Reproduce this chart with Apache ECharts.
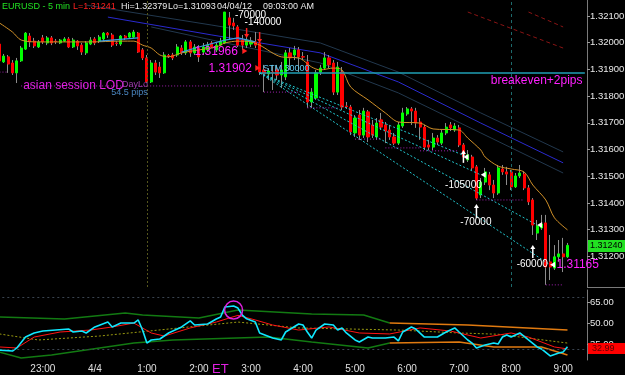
<!DOCTYPE html>
<html>
<head>
<meta charset="utf-8">
<script src="https://cdn.jsdelivr.net/npm/echarts@6.0.0/dist/echarts.min.js"></script>
<style>
html,body{margin:0;padding:0;background:#000;}
#chart{width:625px;height:375px;}
</style>
</head>
<body>
<div id="chart"></div>
<script>
// ---------- categories (5-minute bars from 22:10) ----------
const startMinutes = 22 * 60 + 10;
const barCount = 136;
const categories = [];
for (let i = 0; i < barCount; i++) {
  const m = (startMinutes + 5 * i) % 1440;
  categories.push(Math.floor(m / 60) + ':' + String(m % 60).padStart(2, '0'));
}
const hourLabels = {'23:00':'23:00','0:00':'4/4','1:00':'1:00','2:00':'2:00','3:00':'3:00','4:00':'4:00',
  '5:00':'5:00','6:00':'6:00','7:00':'7:00','8:00':'8:00','9:00':'9:00'};
const priceTicks = [1.312,1.313,1.314,1.315,1.316,1.317,1.318,1.319,1.320,1.321];
const oscTicks = [35,50,65];

// ---------- OHLC ----------
const opens = [1.31995,1.31928,1.31947,1.31924,1.31887,1.31932,1.31976,1.32025,1.32006,1.31984,
1.32018,1.31999,1.32018,1.32006,1.31999,1.32006,1.32014,1.31984,1.32006,1.31991,
1.31962,1.31995,1.32014,1.32006,1.32014,1.32036,1.32029,1.31999,1.31995,1.32025,
1.32021,1.32021,1.32036,1.31973,1.31943,1.31853,1.31924,1.31909,1.31887,1.31952,
1.31954,1.31954,1.31980,1.31962,1.32003,1.31962,1.31980,1.31965,1.31973,1.31999,
1.31973,1.31991,1.31999,1.32093,1.32074,1.32059,1.32010,1.31991,1.31995,1.32003,
1.31999,1.31898,1.31883,1.31890,1.31898,1.31879,1.31872,1.31962,1.31954,1.31973,
1.31948,1.31928,1.31778,1.31793,1.31890,1.31905,1.31943,1.31924,1.31815,1.31890,
1.31763,1.31759,1.31662,1.31729,1.31654,1.31741,1.31692,1.31647,1.31711,1.31692,
1.31673,1.31647,1.31624,1.31688,1.31733,1.31752,1.31744,1.31703,1.31684,1.31617,
1.31609,1.31643,1.31624,1.31662,1.31692,1.31673,1.31681,1.31617,1.31561,1.31572,
1.31535,1.31430,1.31478,1.31505,1.31467,1.31437,1.31527,1.31516,1.31516,1.31460,
1.31501,1.31508,1.31456,1.31411,1.31287,1.31306,1.31325,1.31179,1.31156,1.31198,
1.31209,1.31198];
const closes = [1.31932,1.31950,1.31920,1.31887,1.31932,1.31980,1.32036,1.32003,1.31988,1.32003,
1.32003,1.32018,1.31999,1.32004,1.32010,1.32014,1.31984,1.32010,1.31988,1.31965,
1.31999,1.32010,1.31999,1.32021,1.32036,1.32029,1.31991,1.31997,1.32025,1.32018,
1.32036,1.32040,1.31965,1.31943,1.31853,1.31924,1.31890,1.31887,1.31954,1.31950,
1.31943,1.31984,1.31962,1.32003,1.31962,1.31984,1.31947,1.31984,1.31991,1.31984,
1.31991,1.32006,1.32115,1.32066,1.32063,1.31991,1.31991,1.32010,1.32006,1.31991,
1.31890,1.31883,1.31894,1.31887,1.31879,1.31898,1.31962,1.31943,1.31973,1.31947,
1.31946,1.31778,1.31815,1.31887,1.31905,1.31943,1.31917,1.31815,1.31909,1.31759,
1.31761,1.31666,1.31718,1.31654,1.31744,1.31647,1.31654,1.31699,1.31684,1.31669,
1.31647,1.31624,1.31692,1.31737,1.31752,1.31744,1.31699,1.31684,1.31609,1.31609,
1.31643,1.31628,1.31662,1.31684,1.31681,1.31688,1.31617,1.31572,1.31580,1.31531,
1.31418,1.31478,1.31516,1.31467,1.31437,1.31531,1.31516,1.31508,1.31460,1.31501,
1.31512,1.31456,1.31404,1.31317,1.31314,1.31321,1.31160,1.31160,1.31198,1.31209,
1.31198,1.31241];
const lows = [1.31920,1.31924,1.31887,1.31879,1.31849,1.31928,1.31973,1.31984,1.31980,1.31980,
1.31995,1.31991,1.31991,1.31995,1.31995,1.32003,1.31980,1.31980,1.31973,1.31954,
1.31954,1.31991,1.31991,1.31999,1.32006,1.32018,1.31984,1.31988,1.31988,1.32010,
1.32014,1.32018,1.31962,1.31935,1.31849,1.31849,1.31879,1.31868,1.31883,1.31943,
1.31935,1.31947,1.31954,1.31954,1.31947,1.31954,1.31928,1.31954,1.31965,1.31980,
1.31965,1.31988,1.31995,1.32010,1.32048,1.31984,1.31973,1.31980,1.31984,1.31980,
1.31879,1.31815,1.31860,1.31823,1.31860,1.31830,1.31860,1.31898,1.31935,1.31890,
1.31935,1.31756,1.31756,1.31786,1.31879,1.31898,1.31905,1.31804,1.31804,1.31748,
1.31752,1.31654,1.31647,1.31636,1.31643,1.31628,1.31643,1.31636,1.31673,1.31624,
1.31636,1.31617,1.31617,1.31681,1.31726,1.31692,1.31681,1.31636,1.31598,1.31598,
1.31598,1.31617,1.31617,1.31654,1.31669,1.31666,1.31609,1.31561,1.31553,1.31523,
1.31411,1.31418,1.31467,1.31448,1.31418,1.31430,1.31505,1.31467,1.31448,1.31456,
1.31493,1.31448,1.31392,1.31280,1.31261,1.31299,1.31093,1.31111,1.31149,1.31179,
1.31141,1.31194];
const highs = [1.32010,1.31958,1.31954,1.31935,1.31943,1.31988,1.32040,1.32036,1.32018,1.32010,
1.32029,1.32025,1.32025,1.32014,1.32014,1.32021,1.32021,1.32018,1.32010,1.31999,
1.32006,1.32021,1.32021,1.32029,1.32040,1.32040,1.32036,1.32006,1.32029,1.32029,
1.32040,1.32048,1.32040,1.31980,1.31954,1.31935,1.31935,1.31928,1.31965,1.31958,
1.31962,1.31995,1.31991,1.32010,1.32010,1.31995,1.31991,1.31999,1.32003,1.32006,
1.31999,1.32018,1.32115,1.32115,1.32093,1.32066,1.32029,1.32029,1.32021,1.32040,
1.32010,1.31917,1.31905,1.31917,1.31917,1.31928,1.31973,1.31980,1.31988,1.31984,
1.31965,1.31954,1.31830,1.31898,1.31917,1.31965,1.31954,1.31935,1.31928,1.31909,
1.31778,1.31767,1.31729,1.31748,1.31756,1.31748,1.31711,1.31718,1.31737,1.31703,
1.31692,1.31662,1.31703,1.31756,1.31759,1.31759,1.31756,1.31718,1.31692,1.31636,
1.31662,1.31654,1.31673,1.31699,1.31703,1.31699,1.31692,1.31624,1.31598,1.31580,
1.31542,1.31493,1.31531,1.31516,1.31486,1.31542,1.31542,1.31535,1.31523,1.31512,
1.31542,1.31516,1.31467,1.31418,1.31336,1.31355,1.31355,1.31280,1.31242,1.31261,
1.31269,1.31250];

// ---------- price overlays ----------
const emaLine = [['22:10',1.32074],['22:25',1.32040],['22:35',1.32010],['22:55',1.32003],['23:20',1.32003],
['23:55',1.32003],['0:30',1.32006],['0:45',1.32006],['0:55',1.31991],['1:05',1.31980],['1:15',1.31954],
['1:25',1.31947],['1:40',1.31962],['2:00',1.31973],['2:20',1.31984],['2:30',1.31999],['2:45',1.32006],
['3:00',1.32003],['3:10',1.31991],['3:35',1.31947],['3:55',1.31943],['4:10',1.31909],['4:20',1.31898],
['4:35',1.31905],['4:45',1.31898],['4:55',1.31834],['5:15',1.31786],['5:35',1.31737],['5:50',1.31703],
['6:15',1.31699],['6:30',1.31677],['7:00',1.31673],['7:10',1.31643],['7:25',1.31598],['7:30',1.31572],
['7:45',1.31538],['8:00',1.31527],['8:15',1.31516],['8:25',1.31467],['8:40',1.31411],['8:50',1.31344],['9:05',1.31299]];
const stopLineA = [['0:05',1.32006],['0:50',1.32018]];
const stopLineB = [['1:40',1.31965],['2:00',1.31984],['2:30',1.32010],['2:45',1.32018],['3:05',1.32003]];
const bandUpper = [['23:50',1.32141],['2:15',1.32066],['4:20',1.31999],['5:50',1.31890],['7:25',1.31737],['9:00',1.31591]];
const bandMid   = [['0:15',1.32096],['2:15',1.32029],['4:20',1.31962],['5:50',1.31853],['7:25',1.31699],['9:00',1.31550]];
const bandLower = [['1:05',1.32059],['2:15',1.32010],['4:20',1.31924],['5:50',1.31812],['7:25',1.31662],['9:00',1.31512]];
const redDashA = [['7:10',1.32115],['9:00',1.31980]];
const redDashB = [['8:20',1.32115],['9:00',1.32059]];
const channelEnds = [['7:10',1.31572],['7:25',1.31505],['8:30',1.31317],['8:45',1.31168]];
const channelStart = ['3:10',1.31887];
const breakevenLine = [['3:10',1.31887],['9:25',1.31887]];
const lowSegments = [['22:10','22:20',1.31890],['22:35','3:10',1.31838],['3:15','3:55',1.31815],['4:05','4:40',1.31756],
  ['5:00','5:30',1.31639],['5:35','6:15',1.31606],['6:15','7:00',1.31595],['7:20','8:15',1.31411],['8:40','9:00',1.31093]];

// ---------- oscillator panel ----------
const oscMain = [['22:10',30.7],['22:25',30.0],['22:30',32.2],['22:40',40.0],['22:50',42.9],['23:00',44.3],['23:30',45.7],
['23:35',43.6],['23:45',44.3],['23:50',42.9],['0:00',47.2],['0:15',50.7],['0:20',47.2],['0:30',50.0],['0:45',50.0],
['0:50',52.2],['0:55',45.0],['1:00',35.7],['1:05',37.9],['1:15',38.6],['1:25',42.9],['1:40',47.2],['1:50',51.5],
['1:55',48.6],['2:10',49.3],['2:20',52.9],['2:25',54.3],['2:30',61.5],['2:40',62.2],['2:45',60.7],['2:50',55.7],
['2:55',53.0],['3:05',50.7],['3:10',42.9],['3:25',39.3],['3:35',37.9],['3:40',43.6],['3:55',49.3],['4:00',48.6],
['4:05',43.6],['4:10',39.3],['4:15',45.0],['4:25',49.3],['4:35',48.6],['4:40',45.0],['4:45',46.5],['4:50',42.9],
['5:00',37.9],['5:05',36.5],['5:15',40.0],['5:20',39.3],['5:35',39.3],['5:45',40.0],['5:50',37.2],['5:55',43.6],
['6:05',47.2],['6:10',45.7],['6:20',40.0],['6:35',40.0],['6:45',43.6],['6:55',46.5],['7:00',43.6],['7:10',37.9],
['7:15',35.7],['7:20',32.2],['7:30',34.3],['7:40',35.7],['7:45',35.0],['7:50',40.0],['7:55',41.5],['8:00',40.0],
['8:10',42.9],['8:20',37.9],['8:30',32.9],['8:35',31.5],['8:45',26.5],['8:55',28.6],['9:00',29.3],['9:05',32.99]];
const oscSignal = [['22:10',32.9],['22:30',32.2],['22:50',40.0],['23:20',43.6],['23:55',45.0],['0:20',47.2],['0:45',50.0],
['1:05',42.9],['1:20',40.7],['1:50',46.5],['2:20',50.7],['2:45',55.5],['3:05',52.2],['3:25',48.6],['3:55',45.0],
['4:30',47.2],['5:05',42.9],['5:40',42.2],['6:15',46.5],['6:50',44.3],['7:25',39.3],['8:00',42.9],['8:20',40.0],
['8:50',32.9],['9:05',31.5]];
const oscMid = [['22:10',42.2],['22:55',37.9],['0:05',40.7],['2:00',47.9],['2:45',50.7],['3:55',46.5],['5:50',45.0],
['7:00',42.9],['7:45',42.0],['9:05',35.7]];
const oscUpperGreen = [['22:10',54.3],['23:25',52.9],['0:35',57.2],['0:55',55.7],['2:00',53.6],['2:45',59.3],['4:10',56.5],['5:10',55.7],['5:40',50.0]];
const oscUpperOrange = [['5:40',50.0],['7:10',48.6],['9:05',45.0]];
const oscLowerGreen = [['22:10',29.3],['22:35',25.0],['23:10',27.2],['0:45',35.7],['1:30',37.9],['3:20',40.0],['4:10',36.5],['5:15',32.2],['5:30',34.3],['5:40',35.7]];
const oscLowerOrange = [['5:40',35.7],['7:00',36.5],['7:40',32.9],['8:35',32.9],['9:05',27.2]];
const oscLevels = [68.5, 31.5];
const lastPrice = 1.31240;
const lastOsc = 32.99;

// ---------- chart ----------
const FONT = '"Liberation Sans", Arial, sans-serif';
const chart = echarts.init(document.getElementById('chart'));

function line(data, color, width, type, axis, extra) {
  return Object.assign({
    type: 'line', data: data, xAxisIndex: axis, yAxisIndex: axis,
    showSymbol: false, symbol: 'none', silent: true, animation: false,
    lineStyle: {color: color, width: width, type: type}, z: 3
  }, extra || {});
}

const wickData = opens.map((o, i) => [o, closes[i], lows[i], highs[i]]);
const bodyData = opens.map((o, i) => [o, closes[i], Math.min(o, closes[i]), Math.max(o, closes[i])]);

const series = [
  line(bandUpper, '#22384e', 1, 'solid', 0, {z: 1}),
  line(bandMid, '#2a2ad0', 1, 'solid', 0, {z: 1}),
  line(bandLower, '#22384e', 1, 'solid', 0, {z: 1}),
  line(redDashA, '#8a1414', 1, [4, 3], 0, {z: 1}),
  line(redDashB, '#8a1414', 1, [4, 3], 0, {z: 1}),
  {
    type: 'candlestick', xAxisIndex: 0, yAxisIndex: 0, data: wickData, barWidth: 1, silent: true, z: 2,
    itemStyle: {color: '#8c8c8c', color0: '#8c8c8c', borderColor: '#8c8c8c', borderColor0: '#8c8c8c', borderWidth: 1},
    markLine: {symbol: 'none', silent: true, label: {show: false}, animation: false,
      data: [
        {xAxis: '1:00', lineStyle: {color: '#55551c', type: [2, 2], width: 1}},
        {xAxis: '8:00', lineStyle: {color: '#1d6a6c', type: [3, 3], width: 1}}
      ]}
  },
  {
    type: 'candlestick', xAxisIndex: 0, yAxisIndex: 0, data: bodyData, barWidth: 2.6, silent: true, z: 2,
    itemStyle: {color: '#00ff00', color0: '#ff0000', borderColor: '#00ff00', borderColor0: '#ff0000', borderWidth: 1}
  },
  line(emaLine, '#d09028', 1, 'solid', 0, {smooth: 0.3}),
  line(stopLineA, '#3c9be0', 1.2, 'solid', 0),
  line(stopLineB, '#3c9be0', 1.2, 'solid', 0),
  line(breakevenLine, '#1f9fb5', 1.5, 'solid', 0)
];
channelEnds.forEach(e => series.push(line([channelStart, e], '#22c8d0', 1, [2, 2], 0)));
lowSegments.forEach(s => series.push(line([[s[0], s[2]], [s[1], s[2]]], '#a020b0', 1, [1, 2], 0)));

series.push(line(oscUpperGreen, '#127a12', 1.5, 'solid', 1));
series.push(line(oscLowerGreen, '#127a12', 1.5, 'solid', 1));
series.push(line(oscUpperOrange, '#e07a10', 1.5, 'solid', 1));
series.push(line(oscLowerOrange, '#e07a10', 1.5, 'solid', 1));
series.push(line(oscMid, '#9a9a10', 1, [2, 2], 1));
series.push(line(oscSignal, '#ff1414', 1, 'solid', 1));
series.push(line(oscMain, '#10e8ff', 1.6, 'solid', 1, {
  markLine: {symbol: 'none', silent: true, label: {show: false}, animation: false,
    lineStyle: {color: '#3a4450', type: [2, 3], width: 1},
    data: oscLevels.map(v => ({yAxis: v}))}
}));

const option = {
  backgroundColor: '#000000',
  animation: false,
  grid: [
    {left: -2.7, top: 0, width: 589.7, height: 287, containLabel: false, outerBoundsMode: 'none'},
    {left: -2.7, top: 290, width: 589.7, height: 70, containLabel: false, outerBoundsMode: 'none'}
  ],
  xAxis: [
    {type: 'category', gridIndex: 0, data: categories, boundaryGap: true,
      axisLine: {show: false}, axisTick: {show: false}, axisLabel: {show: false}, splitLine: {show: false}},
    {type: 'category', gridIndex: 1, data: categories, boundaryGap: true,
      axisLine: {show: false}, axisTick: {show: false}, splitLine: {show: false},
      axisLabel: {show: true, interval: (i, v) => !!hourLabels[v], formatter: v => hourLabels[v] || '',
        color: '#e0e0e0', fontSize: 10, fontFamily: FONT, margin: 4}}
  ],
  yAxis: [
    {type: 'value', gridIndex: 0, position: 'right', min: 1.31085, max: 1.3216, scale: true,
      splitLine: {show: false},
      axisLine: {show: true, lineStyle: {color: '#7a7a7a'}},
      axisTick: {show: true, length: 3, lineStyle: {color: '#9a9a9a'}, customValues: priceTicks},
      axisLabel: {customValues: priceTicks, formatter: v => v.toFixed(5), color: '#e8e8e8', fontSize: 9.5, fontFamily: FONT, margin: 3}},
    {type: 'value', gridIndex: 1, position: 'right', min: 23.6, max: 73.6, scale: true,
      splitLine: {show: false},
      axisLine: {show: true, lineStyle: {color: '#7a7a7a'}},
      axisTick: {show: true, length: 3, lineStyle: {color: '#9a9a9a'}, customValues: oscTicks},
      axisLabel: {customValues: oscTicks, formatter: v => v.toFixed(2), color: '#e8e8e8', fontSize: 9.5, fontFamily: FONT, margin: 3}}
  ],
  series: series
};
chart.setOption(option);

// ---------- annotations ----------
const px = (t, v, g) => chart.convertToPixel({xAxisIndex: g || 0, yAxisIndex: g || 0}, [categories.indexOf(t), v]);
const notes = [
  ['22:35', 1.31838, 'asian session LOD', '#e020e0', 12, 'left', 2],
  ['0:30', 1.31842, 'DayLo', '#9a3aa8', 9, 'left', 1],
  ['0:20', 1.31815, '54.5 pips', '#4a86c0', 9, 'left', -1],
  ['2:45', 1.31966, '1.31966', '#ff20ff', 12, 'right', 0],
  ['3:00', 1.31902, '1.31902', '#ff20ff', 12, 'right', 1],
  ['3:15', 1.31902, 'STM 30000', '#60c8f0', 9, 'left', -1],
  ['2:45', 1.32104, '-70000', '#ffffff', 10, 'left', -3],
  ['2:55', 1.32078, '-140000', '#ffffff', 10, 'left', -2],
  ['9:20', 1.31857, 'breakeven+2pips', '#ff20ff', 12, 'right', 2],
  ['7:25', 1.31467, '-105000', '#ffffff', 10, 'right', 1],
  ['7:35', 1.31329, '-70000', '#ffffff', 10, 'right', 2],
  ['8:40', 1.31171, '-60000', '#ffffff', 10, 'right', 2],
  ['8:50', 1.31168, '1.31165', '#ff20ff', 12, 'left', 2]
];
const upArrows = [['7:05', 1.31550, 1.31598], ['7:20', 1.31344, 1.31396], ['8:25', 1.31194, 1.31242]];
const downArrows = [['2:55', 1.32055, 1.32018], ['3:10', 1.32040, 1.31999]];
const leftTriangles = [['7:05', 1.31572], ['7:25', 1.31505], ['8:30', 1.31317], ['8:45', 1.31168]];
const rightTriangles = [['2:50', 1.31969], ['3:05', 1.31905]];

const g = [];
const txt = (x, y, text, color, size, align, extra) => g.push(Object.assign({
  type: 'text', x: x, y: y, z: 100, silent: true,
  style: {text: text, fill: color, font: size + 'px ' + FONT, textAlign: align, textVerticalAlign: 'middle'}
}, extra || {}));

// header
txt(2, 7, 'EURUSD - 5 min', '#22e022', 9, 'left');
txt(73, 7, 'L=1.31241', '#ff2020', 9, 'left');
txt(121, 7, 'Hi=1.32379', '#ececec', 9, 'left');
txt(168, 7, 'Lo=1.31093', '#ececec', 9, 'left');
txt(217, 7, '04/04/12', '#ececec', 9, 'left');
txt(263, 7, '09:03:00 AM', '#ececec', 9, 'left');

notes.forEach(n => {
  const p = px(n[0], n[1], 0);
  txt(p[0] + n[6], p[1], n[2], n[3], n[4], n[5]);
});

upArrows.forEach(a => {
  const p1 = px(a[0], a[1], 0), p2 = px(a[0], a[2], 0);
  g.push({type: 'line', z: 100, silent: true, shape: {x1: p1[0], y1: p1[1], x2: p2[0], y2: p2[1] + 3}, style: {stroke: '#ffffff', lineWidth: 1.5}});
  g.push({type: 'polygon', z: 100, silent: true, shape: {points: [[p2[0] - 2.5, p2[1] + 4], [p2[0] + 2.5, p2[1] + 4], [p2[0], p2[1]]]}, style: {fill: '#ffffff'}});
});
downArrows.forEach(a => {
  const p1 = px(a[0], a[1], 0), p2 = px(a[0], a[2], 0);
  g.push({type: 'line', z: 100, silent: true, shape: {x1: p1[0], y1: p1[1], x2: p2[0], y2: p2[1] - 3}, style: {stroke: '#ff2020', lineWidth: 1.5}});
  g.push({type: 'polygon', z: 100, silent: true, shape: {points: [[p2[0] - 2.5, p2[1] - 4], [p2[0] + 2.5, p2[1] - 4], [p2[0], p2[1]]]}, style: {fill: '#ff2020'}});
});
leftTriangles.forEach(a => {
  const p = px(a[0], a[1], 0);
  g.push({type: 'polygon', z: 100, silent: true, shape: {points: [[p[0], p[1]], [p[0] + 5, p[1] - 3], [p[0] + 5, p[1] + 3]]}, style: {fill: '#ffffff'}});
});
rightTriangles.forEach(a => {
  const p = px(a[0], a[1], 0);
  g.push({type: 'polygon', z: 100, silent: true, shape: {points: [[p[0] + 5, p[1]], [p[0], p[1] - 3], [p[0], p[1] + 3]]}, style: {fill: '#ff2020'}});
});

// circle on oscillator peak
const cp = px('2:40', 59.3, 1);
g.push({type: 'circle', z: 100, silent: true, shape: {cx: cp[0], cy: cp[1], r: 9}, style: {fill: 'none', stroke: '#e020e0', lineWidth: 1.5}});

// "ET" next to 2:00
txt(212, 369, 'ET', '#e020e0', 13, 'left');

// panel separator at right
g.push({type: 'line', z: 90, silent: true, shape: {x1: 587, y1: 287.5, x2: 625, y2: 287.5}, style: {stroke: '#7a7a7a', lineWidth: 1}});

// last price boxes
const lp = px('9:05', lastPrice, 0);
g.push({type: 'rect', z: 100, silent: true, shape: {x: 588, y: Math.round(lp[1]) - 6, width: 37, height: 12}, style: {fill: '#22e022'}});
txt(590, Math.round(lp[1]), lastPrice.toFixed(5), '#000000', 9, 'left', {z: 101});
const lo = px('9:05', lastOsc, 1);
g.push({type: 'rect', z: 100, silent: true, shape: {x: 588, y: Math.round(lo[1]) - 4, width: 37, height: 11}, style: {fill: '#ff0000'}});
txt(592, Math.round(lo[1]) + 1.5, lastOsc.toFixed(2), '#5a0000', 9, 'left', {z: 101});

chart.setOption({graphic: {elements: g}});
</script>
</body>
</html>
